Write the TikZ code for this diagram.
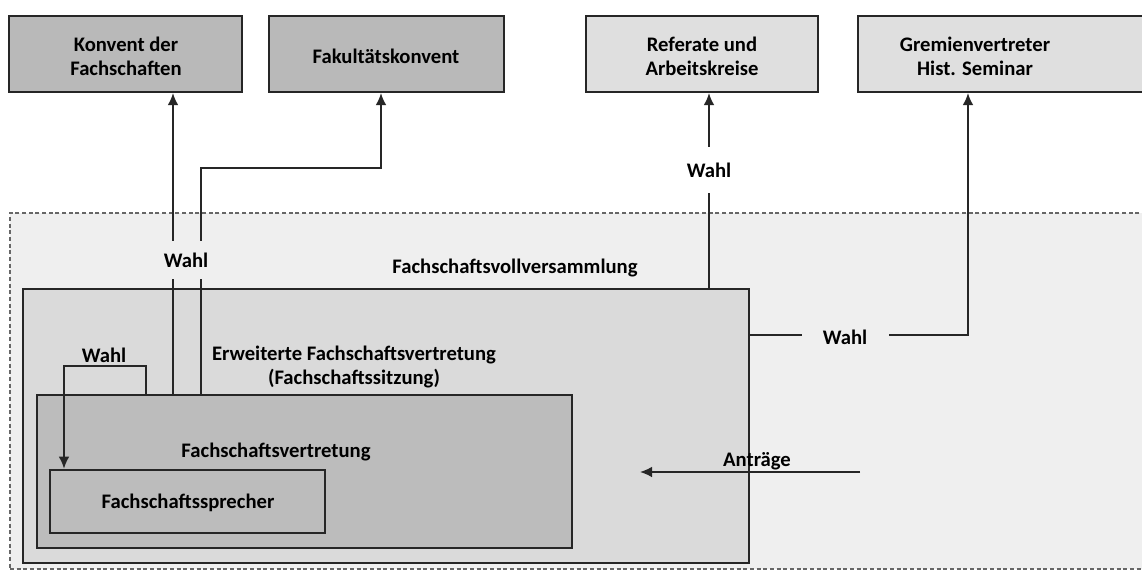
\documentclass[tikz,border=0pt]{standalone}
\usepackage{fontspec}
\setmainfont{Carlito}
\usetikzlibrary{arrows.meta,fit}
\definecolor{bgout}{HTML}{EFEFEF}
\definecolor{efvfill}{HTML}{DADADA}
\definecolor{fvfill}{HTML}{BCBCBC}
\definecolor{topdark}{HTML}{B9B9B9}
\definecolor{toplight}{HTML}{DFDFDF}
\definecolor{edge}{HTML}{262626}
\begin{document}
\begin{tikzpicture}[x=0.75pt,y=-0.75pt,
  font=\bfseries\fontsize{15.5}{18}\selectfont,
  boxbase/.style={draw=edge, line width=1.6pt, inner sep=0pt},
  darkbox/.style={boxbase, fill=topdark},
  lightbox/.style={boxbase, fill=toplight},
  conn/.style={draw=edge, line width=1.2pt},
  arr/.style={conn, -{Latex[length=9pt,width=8pt]}},
  lbl/.style={fill=bgout, inner xsep=4pt, inner ysep=9pt, text=black},
  txt/.style={align=center, text=black, inner sep=0pt}]
\useasboundingbox (0,0) rectangle (1142,574);
\clip (0,0) rectangle (1142,574);
\fill[white] (0,0) rectangle (1142,574);

% top boxes
\node[darkbox, fit={(9,16)(242,92)}] (k1) {};
\node[darkbox, fit={(269,16)(504,92)}] (k2) {};
\node[lightbox, fit={(586,16)(818,92)}] (k3) {};
\node[lightbox, fit={(858,16)(1160,92)}] (k4) {};
\node[txt] (k1t) at (126,56) {Konvent der\\Fachschaften};
\node[txt] (k2t) at (386,56) {Fakultätskonvent};
\node[txt] (k3t) at (702,56) {Referate und\\Arbeitskreise};
\node[txt] (k4t) at (975,56) {Gremienvertreter\\Hist. Seminar};

% nested boxes
\node[fit={(10,213)(1170,569)}, inner sep=0pt, fill=bgout, draw=black!60, densely dashed, line width=1pt] (fvv) {};
\node[fit={(23,289)(749,563)}, inner sep=0pt, fill=efvfill, draw=edge, line width=1.6pt] (efv) {};
\node[fit={(37,395)(572,548)}, inner sep=0pt, fill=fvfill, draw=edge, line width=2pt] (fv) {};
\node[fit={(50,470)(325,533)}, inner sep=0pt, fill=fvfill, draw=edge, line width=2pt] (fsp) {};

\node[txt] (fvvt) at (515,268) {Fachschaftsvollversammlung};
\node[txt] (efvt) at (354,367) {Erweiterte Fachschaftsvertretung\\(Fachschaftssitzung)};
\node[txt] (fvt) at (276,452) {Fachschaftsvertretung};
\node[txt] (fspt) at (188,503) {Fachschaftssprecher};

% helper coordinates
\coordinate (xa) at (173,0);
\coordinate (xb) at (201,0);
\coordinate (xc) at (381,168);
\coordinate (xl) at (146,366);
\coordinate (xd) at (64,0);
\coordinate (xr) at (709,0);
\coordinate (xg) at (968,335);
\coordinate (an1) at (860,472);
\coordinate (an2) at (640,472);

% connectors
\draw[arr] (fv.north -| xa) -- (k1.south -| xa);
\draw[arr] (fv.north -| xb) |- (xc) -- (k2.south -| xc);
\draw[arr] (fv.north -| xl) -- (xl) -| (fsp.north -| xd);
\draw[arr] (efv.north -| xr) -- (k3.south -| xr);
\draw[arr] (efv.east |- xg) -- (xg) -- (k4.south -| xg);
\draw[arr] (an1) -- (an2);

% labels
\node[lbl] (w1) at (186,260) {Wahl};
\node[txt] (w2) at (104,355) {Wahl};
\node[lbl, fill=white, inner ysep=12pt] (w3) at (709,170) {Wahl};
\node[lbl, inner xsep=16pt, inner ysep=6pt] (w4) at (845,337) {Wahl};
\node[txt, anchor=south] (at) at (757,470) {Anträge};
\end{tikzpicture}
\end{document}
